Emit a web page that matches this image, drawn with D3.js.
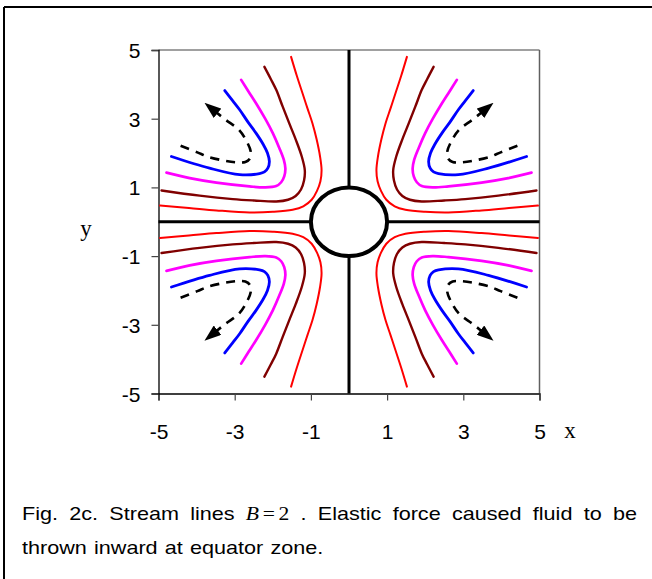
<!DOCTYPE html>
<html>
<head>
<meta charset="utf-8">
<script src="https://cdn.jsdelivr.net/npm/d3@7/dist/d3.min.js"></script>
<style>
  html, body { margin: 0; padding: 0; background: #fff; }
  svg { display: block; }
</style>
</head>
<body>
<script>
// ---- data (top-left quadrant; other quadrants are mirror images) ----
const xTicks = [-5, -3, -1, 1, 3, 5];
const yTicks = [-5, -3, -1, 1, 3, 5];
const redLine = [[-1.52,4.80],[-1.37,4.25],[-1.22,3.74],[-1.09,3.30],[-0.96,2.87],[-0.85,2.40],[-0.76,1.90],[-0.72,1.50],[-0.75,1.18],[-0.84,0.90],[-0.98,0.64],[-1.20,0.45],[-1.48,0.35],[-2.00,0.29],[-2.61,0.27],[-3.48,0.33],[-4.20,0.40],[-4.96,0.47]];
const darkRedLine = [[-2.22,4.51],[-2.05,4.15],[-1.91,3.84],[-1.74,3.35],[-1.57,2.87],[-1.40,2.40],[-1.24,1.90],[-1.16,1.50],[-1.18,1.20],[-1.26,0.94],[-1.40,0.75],[-1.60,0.64],[-1.91,0.59],[-2.50,0.62],[-3.05,0.66],[-3.92,0.76],[-4.92,0.91]];
const magentaLine = [[-2.83,4.13],[-2.63,3.78],[-2.44,3.45],[-2.20,3.00],[-2.00,2.58],[-1.83,2.15],[-1.71,1.80],[-1.67,1.55],[-1.70,1.32],[-1.78,1.15],[-1.91,1.04],[-2.20,1.00],[-2.61,1.03],[-3.48,1.14],[-4.18,1.27],[-4.79,1.43]];
const blueLine = [[-3.26,3.82],[-3.05,3.52],[-2.87,3.26],[-2.65,2.90],[-2.44,2.58],[-2.25,2.25],[-2.14,2.00],[-2.09,1.75],[-2.13,1.56],[-2.22,1.45],[-2.35,1.40],[-2.87,1.37],[-3.66,1.56],[-4.66,1.90]];
const dashedLine = [[-4.42,2.21],[-3.98,2.02],[-3.72,1.90],[-3.28,1.78],[-2.95,1.73],[-2.72,1.74],[-2.60,1.84],[-2.58,2.05],[-2.71,2.39],[-2.89,2.68],[-3.24,2.97],[-3.50,3.20]];
const quadrantSigns = [[1,1],[-1,1],[1,-1],[-1,-1]];
const circleRadius = 1;
const captionLine1 = ["Fig.", "2c.", "Stream", "lines", "B", ".", "Elastic", "force", "caused", "fluid", "to", "be"];
const captionLine2 = "thrown inward at equator zone.";

// ---- layout ----
const W = 652, H = 579;
const svg = d3.select("body").append("svg").attr("width", W).attr("height", H);

// outer frame (top and left)
svg.append("line").attr("x1", 4).attr("y1", 7).attr("x2", W).attr("y2", 7)
  .attr("stroke", "#000").attr("stroke-width", 2);
svg.append("line").attr("x1", 4).attr("y1", 7).attr("x2", 4).attr("y2", H)
  .attr("stroke", "#000").attr("stroke-width", 2);

const x = d3.scaleLinear().domain([-5, 5]).range([158.5, 539.5]);
const y = d3.scaleLinear().domain([-5, 5]).range([393.5, 50]);

const defs = svg.append("defs");
defs.append("marker").attr("id", "arrow")
  .attr("viewBox", "0 0 14 10").attr("refX", 2).attr("refY", 5)
  .attr("markerWidth", 17).attr("markerHeight", 12)
  .attr("markerUnits", "userSpaceOnUse")
  .attr("orient", "auto")
  .append("path").attr("d", "M0,0 L14,5 L0,10 Z").attr("fill", "#000");

// plot border (top & right gray)
svg.append("line").attr("x1", x(-5)).attr("x2", x(5)).attr("y1", y(5)).attr("y2", y(5))
  .attr("stroke", "#808080").attr("stroke-width", 1.5);
svg.append("line").attr("x1", x(5)).attr("x2", x(5)).attr("y1", y(5)).attr("y2", y(-5))
  .attr("stroke", "#606060").attr("stroke-width", 1.5);

// axes
const fmt = d => String(d);
const xAxis = d3.axisBottom(x).tickValues(xTicks).tickSize(7).tickPadding(24).tickFormat(fmt);
const yAxis = d3.axisLeft(y).tickValues(yTicks).tickSize(7).tickPadding(11).tickFormat(fmt);
const gx = svg.append("g").attr("transform", `translate(0,${y(-5)})`).call(xAxis);
const gy = svg.append("g").attr("transform", `translate(${x(-5)},0)`).call(yAxis);
[gx, gy].forEach(g => {
  g.select(".domain").attr("stroke", "#000").attr("stroke-width", 1.3);
  g.selectAll(".tick line").attr("stroke", "#444").attr("stroke-width", 1.2);
  g.selectAll(".tick text").attr("font-family", "'Liberation Sans', Arial, sans-serif")
    .attr("font-size", 21).attr("fill", "#000");
});
gx.selectAll(".tick text").attr("dy", "0.71em");
gy.selectAll(".tick text").attr("dy", "0.36em");

// axis titles
svg.append("text").attr("x", 86).attr("y", 236).attr("text-anchor", "middle")
  .attr("font-family", "'Liberation Serif', 'Times New Roman', serif").attr("font-size", 23).text("y");
svg.append("text").attr("x", 570).attr("y", 438).attr("text-anchor", "middle")
  .attr("font-family", "'Liberation Serif', 'Times New Roman', serif").attr("font-size", 23).text("x");

// zero axes
svg.append("line").attr("x1", x(-5)).attr("x2", x(5)).attr("y1", y(0)).attr("y2", y(0))
  .attr("stroke", "#000").attr("stroke-width", 3);
svg.append("line").attr("x1", x(0)).attr("x2", x(0)).attr("y1", y(5)).attr("y2", y(-5))
  .attr("stroke", "#000").attr("stroke-width", 3);

// stream lines
const lineGen = d3.line().x(d => x(d[0])).y(d => y(d[1])).curve(d3.curveCatmullRom.alpha(0.5));
const series = [
  { data: redLine, color: "#ff0000", width: 2.0 },
  { data: darkRedLine, color: "#800000", width: 2.4 },
  { data: magentaLine, color: "#ff00ff", width: 2.7 },
  { data: blueLine, color: "#0000ff", width: 2.8 }
];
const gLines = svg.append("g");
quadrantSigns.forEach(([sx, sy]) => {
  series.forEach(s => {
    gLines.append("path")
      .attr("d", lineGen(s.data.map(p => [p[0] * sx, p[1] * sy])))
      .attr("fill", "none").attr("stroke", s.color).attr("stroke-width", s.width)
      .attr("stroke-linejoin", "round").attr("stroke-linecap", "round");
  });
  gLines.append("path")
    .attr("d", lineGen(dashedLine.map(p => [p[0] * sx, p[1] * sy])))
    .attr("fill", "none").attr("stroke", "#000").attr("stroke-width", 2.6)
    .attr("stroke-dasharray", "9,7")
    .attr("marker-end", "url(#arrow)");
});

// sphere
svg.append("ellipse").attr("cx", x(0)).attr("cy", y(0))
  .attr("rx", x(circleRadius) - x(0)).attr("ry", y(0) - y(circleRadius))
  .attr("fill", "#fff").attr("stroke", "#000").attr("stroke-width", 4);

// caption (slightly wide rendering as in the reference)
const capFont = "'Liberation Sans', Arial, sans-serif";
const capSize = 18;
const sxCap = 1.2;
const left = 22, right = 637, base1 = 520, base2 = 554;
const cap = svg.append("g").attr("transform", `scale(${sxCap},1)`);
const tokens = captionLine1.map(w => {
  const t = cap.append("text").attr("y", base1).attr("font-family", capFont).attr("font-size", capSize);
  if (w === "B") {
    t.attr("font-family", "'Liberation Serif', 'Times New Roman', serif").attr("font-size", 18);
    t.append("tspan").attr("font-style", "italic").text("B");
    t.append("tspan").attr("dx", 3).text("=");
    t.append("tspan").attr("dx", 3).text("2");
  } else {
    t.text(w);
  }
  return t;
});
const widths = tokens.map(t => t.node().getComputedTextLength() + (t.selectAll("tspan").size() ? 6 : 0));
const total = d3.sum(widths);
const gap = ((right - left) / sxCap - total) / (tokens.length - 1);
let cx = left / sxCap;
tokens.forEach((t, i) => { t.attr("x", cx); cx += widths[i] + gap; });
cap.append("text").attr("x", left / sxCap).attr("y", base2).attr("font-family", capFont)
  .attr("font-size", capSize).attr("word-spacing", 1).text(captionLine2);
</script>
</body>
</html>
